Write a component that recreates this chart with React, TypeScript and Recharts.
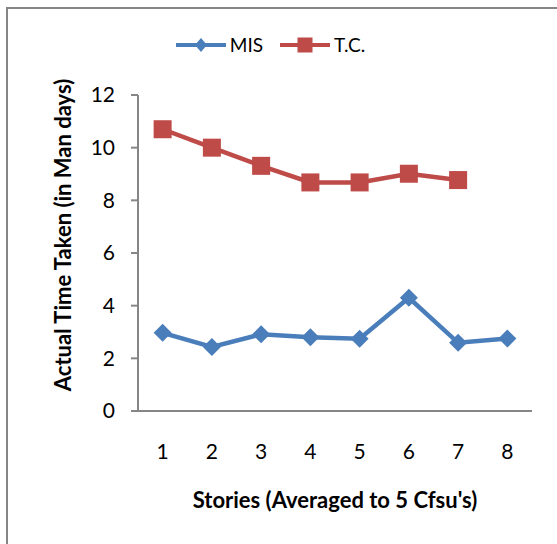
import { LineChart, Line, XAxis, YAxis, Legend, Label } from 'recharts'

const stories = [1, 2, 3, 4, 5, 6, 7, 8]
const storyEdges = [0.5, 1.5, 2.5, 3.5, 4.5, 5.5, 6.5, 7.5, 8.5]
const misValues = [2.97, 2.43, 2.91, 2.8, 2.74, 4.3, 2.59, 2.75]
const tcValues = [10.7, 10.0, 9.31, 8.68, 8.68, 9.01, 8.77]
const yTicks = [0, 2, 4, 6, 8, 10, 12]

const data = stories.map((s, i) => ({
  story: s,
  mis: misValues[i],
  tc: tcValues[i] ?? null,
}))

const BLUE = '#4A7EBB'
const RED = '#BE4B48'
const AXIS = '#868686'
const FONT = 'Lato, "Open Sans", sans-serif'

const Diamond = (props: any) => {
  const { cx, cy, index } = props
  if (cx == null || cy == null) return <g key={`md-${index}`} />
  const r = 9
  return (
    <path
      key={`md-${index}`}
      d={`M${cx},${cy - r}L${cx + r},${cy}L${cx},${cy + r}L${cx - r},${cy}Z`}
      fill={BLUE}
    />
  )
}

const Square = (props: any) => {
  const { cx, cy, index } = props
  if (cx == null || cy == null) return <g key={`sq-${index}`} />
  const s = 9
  return <rect key={`sq-${index}`} x={cx - s} y={cy - s} width={s * 2} height={s * 2} fill={RED} />
}

const LegendContent = (props: any) => {
  const { payload = [] } = props
  return (
    <div
      style={{
        display: 'flex',
        justifyContent: 'center',
        alignItems: 'center',
        gap: 16,
        fontFamily: FONT,
        fontSize: 19,
        color: '#000',
      }}
    >
      {payload.map((entry: any) => (
        <div key={entry.value} style={{ display: 'flex', alignItems: 'center' }}>
          <svg width={52} height={20} style={{ marginRight: 3 }}>
            <line x1={1} y1={10} x2={51} y2={10} stroke={entry.color} strokeWidth={4} />
            {entry.dataKey === 'mis' ? (
              <path d="M26,3L32,10L26,17L20,10Z" fill={entry.color} />
            ) : (
              <rect x={18.5} y={2.5} width={15} height={15} fill={entry.color} />
            )}
          </svg>
          <span>{entry.value}</span>
        </div>
      ))}
    </div>
  )
}

const YTitle = (props: any) => {
  const { viewBox } = props
  const cx = 62
  const cy = viewBox.y + viewBox.height / 2 - 18
  return (
    <text
      x={cx}
      y={cy}
      transform={`rotate(-90, ${cx}, ${cy})`}
      textAnchor="middle"
      dominantBaseline="central"
      fontFamily={FONT}
      fontWeight="bold"
      fontSize={22}
      fill="#000"
    >
      Actual Time Taken (in Man days)
    </text>
  )
}

export default function App() {
  return (
    <div
      style={{
        position: 'absolute',
        left: 0,
        top: 0,
        width: 557,
        height: 544,
        overflow: 'hidden',
        background: '#fff',
      }}
    >
      <div
        style={{
          position: 'absolute',
          left: 6,
          top: 7,
          width: 600,
          height: 600,
          borderLeft: `2px solid ${AXIS}`,
          borderTop: `2px solid ${AXIS}`,
        }}
      />
      <LineChart
        width={557}
        height={544}
        data={data}
        margin={{ top: 95, right: 25, bottom: 131, left: 0 }}
      >
        <XAxis
          xAxisId="edges"
          type="number"
          dataKey="story"
          domain={[0.5, 8.5]}
          ticks={storyEdges}
          tick={false}
          tickSize={7}
          height={1}
          stroke={AXIS}
          strokeWidth={2}
          allowDataOverflow
        />
        <XAxis
          xAxisId="labels"
          type="number"
          dataKey="story"
          domain={[0.5, 8.5]}
          ticks={stories}
          axisLine={false}
          tickLine={false}
          tickSize={0}
          tickMargin={32}
          height={1}
          tick={{ fontFamily: FONT, fontSize: 21, fill: '#000' }}
          allowDataOverflow
        >
          <Label
            value="Stories (Averaged to 5 Cfsu's)"
            position="bottom"
            offset={79}
            style={{ fontFamily: FONT, fontWeight: 'bold', fontSize: 22, fill: '#000' }}
          />
        </XAxis>
        <YAxis
          type="number"
          domain={[0, 12]}
          ticks={yTicks}
          width={138}
          tickSize={7}
          tickMargin={16}
          stroke={AXIS}
          strokeWidth={2}
          tick={{ fontFamily: FONT, fontSize: 21, fill: '#000' }}
          interval={0}
        >
          <Label content={YTitle} />
        </YAxis>
        <Legend
          layout="horizontal"
          verticalAlign="middle"
          align="center"
          wrapperStyle={{ top: 33, left: 0, width: 540 }}
          content={LegendContent}
        />
        <Line
          xAxisId="edges"
          type="linear"
          dataKey="mis"
          name="MIS"
          stroke={BLUE}
          strokeWidth={4.5}
          dot={Diamond}
          activeDot={false}
          isAnimationActive={false}
        />
        <Line
          xAxisId="edges"
          type="linear"
          dataKey="tc"
          name="T.C."
          stroke={RED}
          strokeWidth={4.5}
          dot={Square}
          activeDot={false}
          isAnimationActive={false}
        />
      </LineChart>
    </div>
  )
}
